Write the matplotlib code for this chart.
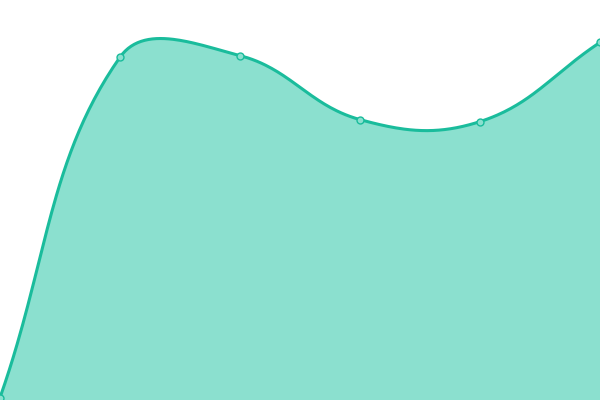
import numpy as np
import matplotlib
matplotlib.use('Agg')
import matplotlib.pyplot as plt

# values (y axis 0..100, no visible axes)
labels = ['A', 'B', 'C', 'D', 'E', 'F']
values = [0.6, 85.7, 86.1, 70.1, 69.6, 89.4]

line_color = '#1abc9c'
fill_color = '#8be0cf'
tension = 0.4


def spline_curve(xs, ys, t=0.4, n=60):
    # chart.js style cubic bezier through the points
    pts = np.column_stack([xs, ys]).astype(float)
    k = len(pts)
    c_prev = pts.copy()
    c_next = pts.copy()
    for i in range(k):
        p0 = pts[max(i - 1, 0)]
        p1 = pts[i]
        p2 = pts[min(i + 1, k - 1)]
        d01 = np.hypot(*(p1 - p0))
        d12 = np.hypot(*(p2 - p1))
        tot = d01 + d12
        fa = t * d01 / tot if tot else 0
        fb = t * d12 / tot if tot else 0
        c_prev[i] = p1 - fa * (p2 - p0)
        c_next[i] = p1 + fb * (p2 - p0)
    out = []
    s = np.linspace(0, 1, n)[:, None]
    for i in range(k - 1):
        a, b, c, d = pts[i], c_next[i], c_prev[i + 1], pts[i + 1]
        seg = (1 - s) ** 3 * a + 3 * (1 - s) ** 2 * s * b + 3 * (1 - s) * s ** 2 * c + s ** 3 * d
        out.append(seg if i == 0 else seg[1:])
    return np.vstack(out)


fig = plt.figure(figsize=(6, 4), dpi=100)
ax = fig.add_axes([0, 0, 1, 1])
x = np.arange(len(values))
ax.set_xlim(0, len(values) - 1)
ax.set_ylim(0, 100)
ax.axis('off')

# work in pixel space like the browser does
px = x * 120.0
py = (100 - np.array(values)) * 4.0
curve = spline_curve(px, py, tension)
cx = curve[:, 0] / 120.0
cy = 100 - curve[:, 1] / 4.0

ax.fill_between(cx, cy, 0, color=fill_color, lw=0)
ax.plot(cx, cy, color=line_color, lw=2.2, solid_capstyle='round')
ax.plot(x, values, 'o', ms=5, mfc=fill_color, mec=line_color, mew=1)

fig.savefig('out.png', dpi=100)
